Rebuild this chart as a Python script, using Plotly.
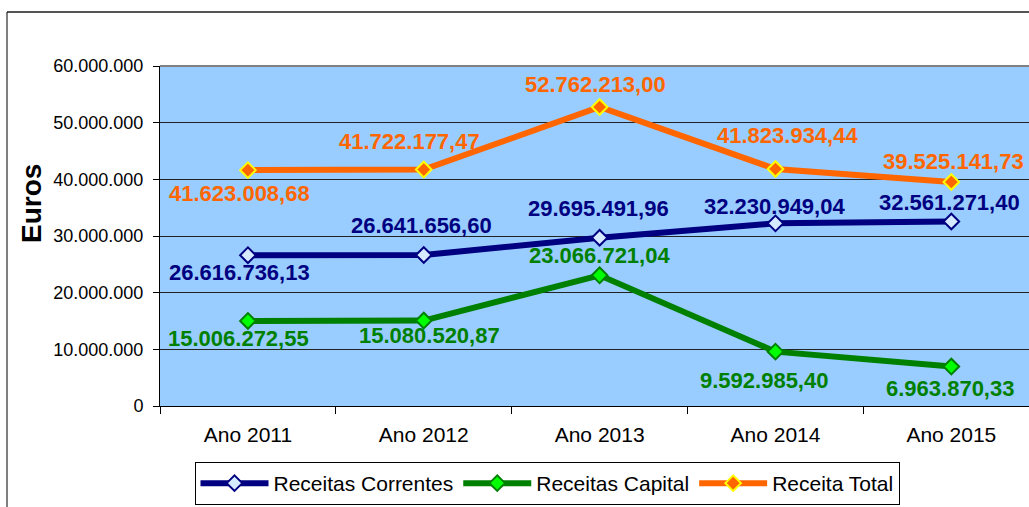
import plotly.graph_objects as go

categories = ["Ano 2011", "Ano 2012", "Ano 2013", "Ano 2014", "Ano 2015"]
receitas_correntes = [26616736.13, 26641656.60, 29695491.96, 32230949.04, 32561271.40]
receitas_capital = [15006272.55, 15080520.87, 23066721.04, 9592985.40, 6963870.33]
receita_total = [41623008.68, 41722177.47, 52762213.00, 41823934.44, 39525141.73]
y_tickvals = [0, 10000000, 20000000, 30000000, 40000000, 50000000, 60000000]
y_ticktext = ["0", "10.000.000", "20.000.000", "30.000.000", "40.000.000", "50.000.000", "60.000.000"]

# label offsets (pixels, dx right, dy down) relative to each marker
off_correntes = [(-8, 17), (-2, -30), (-1, -29), (-1, -17), (-2, -19)]
off_capital = [(-9, 18), (6, 15), (0, -20), (-11, 29), (-1, 22)]
off_total = [(-8, 23), (-14, -28), (-4, -23), (12, -34), (2, -21)]

FONT = "Arial, Liberation Sans, sans-serif"


def fmt(v):
    s = f"{v:,.2f}"
    return s.replace(",", "X").replace(".", ",").replace("X", ".")


W, H = 1029, 507
L, T, B = 160, 66, 406
PW = W - L
PH = B - T
CAT_W = 175.85


def px_x(p):
    return (p - L) / PW


def px_y(p):
    return (B - p) / PH


fig = go.Figure()

series = [
    ("Receitas Correntes", receitas_correntes, "#000080", "#D6EBFF", "#000080", off_correntes),
    ("Receitas Capital", receitas_capital, "#008000", "#00FF00", "#008000", off_capital),
    ("Receita Total", receita_total, "#FF6600", "#FF6600", "#FFFF00", off_total),
]

annotations = []
for name, vals, col, mfill, mline, offs in series:
    fig.add_trace(go.Scatter(
        x=categories, y=vals, name=name, mode="lines+markers",
        line=dict(color=col, width=6),
        marker=dict(symbol="diamond", size=12, color=mfill, line=dict(color=mline, width=2)),
        cliponaxis=False,
    ))
    for c, v, (dx, dy) in zip(categories, vals, offs):
        annotations.append(dict(
            x=c, y=v, xref="x", yref="y", text=fmt(v), showarrow=False,
            xanchor="center", yanchor="middle", xshift=dx, yshift=-dy,
            font=dict(family=FONT, size=22, color=col, weight="bold"),
        ))

annotations.append(dict(
    text="<b>Euros</b>", textangle=-90, x=px_x(31), y=px_y(204),
    xref="paper", yref="paper", showarrow=False, xanchor="center", yanchor="middle",
    font=dict(family=FONT, size=28, color="black"),
))

fig.update_layout(
    width=W, height=H,
    margin=dict(l=L, r=0, t=T, b=H - B, pad=0),
    paper_bgcolor="white",
    plot_bgcolor="#99CCFF",
    font=dict(family=FONT, size=18, color="black"),
    showlegend=True,
    legend=dict(
        orientation="h", x=px_x(547), xanchor="center", y=px_y(505), yanchor="bottom",
        bgcolor="white", bordercolor="black", borderwidth=1,
        font=dict(family=FONT, size=21, color="black"),
        itemwidth=68, tracegroupgap=0,
    ),
    annotations=annotations,
    shapes=[
        dict(type="line", xref="paper", yref="paper", x0=px_x(7), x1=1.01, y0=px_y(12), y1=px_y(12),
             line=dict(color="#555555", width=2)),
        dict(type="line", xref="paper", yref="paper", x0=px_x(7), x1=px_x(7), y0=px_y(12), y1=px_y(520),
             line=dict(color="black", width=1)),
        dict(type="line", xref="paper", yref="paper", x0=0, x1=1, y0=1, y1=1,
             line=dict(color="#808080", width=2)),
    ],
)

fig.update_xaxes(
    type="category", range=[-0.5, -0.5 + PW / CAT_W],
    tickson="boundaries", ticks="outside", ticklen=7, tickcolor="black",
    showgrid=False, showline=True, linecolor="black", linewidth=1,
    tickfont=dict(family=FONT, size=21, color="black"),
    ticklabelstandoff=10, automargin=False,
)
fig.update_yaxes(
    range=[0, 60000000], tickvals=y_tickvals, ticktext=y_ticktext,
    ticks="outside", ticklen=6, tickcolor="black",
    showgrid=True, gridcolor="#222222", gridwidth=1,
    showline=True, linecolor="black", linewidth=1,
    zeroline=False, automargin=False,
    tickfont=dict(family=FONT, size=18, color="black"),
    ticklabelstandoff=6,
)

fig.write_html(
    "out.html",
    config={"displayModeBar": False},
    post_script="document.body.style.margin='0';document.body.style.overflow='hidden';",
)
